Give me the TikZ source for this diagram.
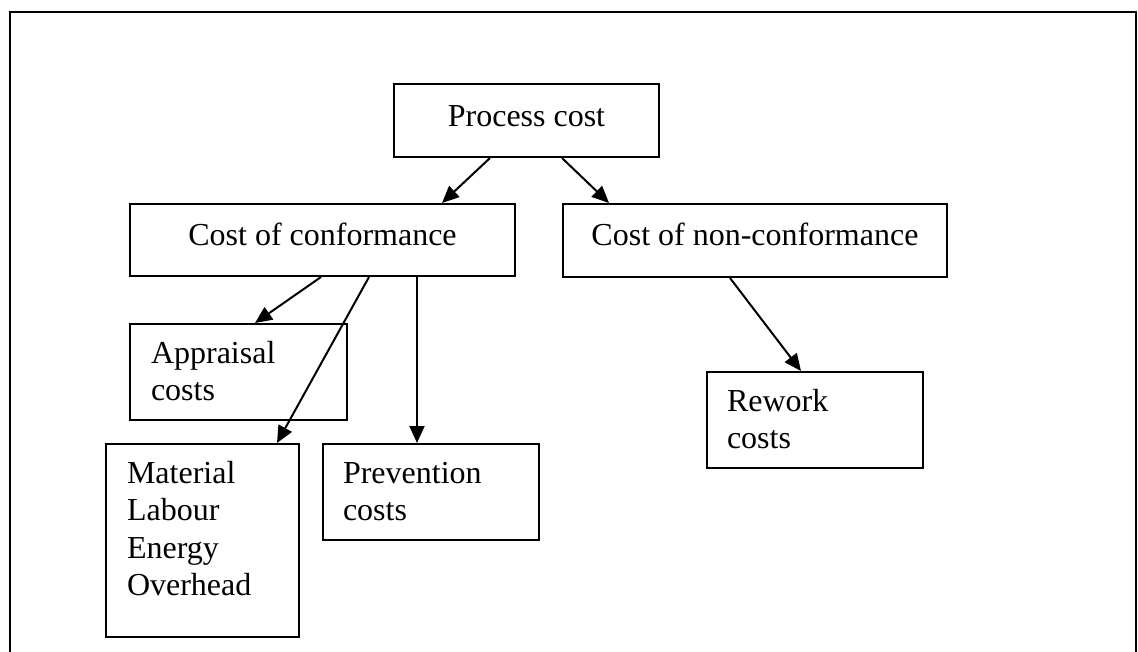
\documentclass[tikz,border=0pt]{standalone}
\usepackage{fontspec}
\setmainfont{Liberation Serif}
\usetikzlibrary{arrows.meta}
% box contents: width, height, left pad, top pad, text
\newcommand{\lcell}[5]{\parbox[t][#2][t]{#1}{\vspace*{#4}\leftskip=#3\relax\strut #5}}
\newcommand{\ccell}[4]{\parbox[t][#2][t]{#1}{\vspace*{#3}\centering\strut #4}}
\tikzset{
  costbox/.style={draw, line width=2pt, inner sep=0pt, anchor=north west,
    font=\fontsize{32}{37.5}\selectfont},
  arr/.style={line width=2pt, -{Triangle[length=17pt,width=15pt]}},
  frame/.style={line width=2pt}
}
\begin{document}
\begin{tikzpicture}[x=1pt,y=-1pt]
\useasboundingbox (0,0) rectangle (1138,651);
% outer frame, open at the bottom
\draw[frame] (10,660) -- (10,12) -- (1136,12) -- (1136,660);

\node[costbox] (proc) at (393,83)  {\ccell{265pt}{73pt}{15.75pt}{Process cost}};
\node[costbox] (coc)  at (129,203) {\ccell{385pt}{72pt}{14.75pt}{Cost of conformance}};
\node[costbox] (cnc)  at (562,203) {\ccell{384pt}{73pt}{14.75pt}{Cost of non-conformance}};
\node[costbox] (app)  at (129,323) {\lcell{217pt}{96pt}{21pt}{12.75pt}{Appraisal\\costs}};
\node[costbox] (mat)  at (105,443) {\lcell{193pt}{193pt}{21pt}{12.75pt}{Material\\Labour\\Energy\\Overhead}};
\node[costbox] (prev) at (322,443) {\lcell{216pt}{96pt}{20pt}{12.75pt}{Prevention\\costs}};
\node[costbox] (rew)  at (706,371) {\lcell{216pt}{96pt}{20pt}{12.75pt}{Rework\\costs}};

\draw[arr] ([xshift=97pt]proc.south west)  -- ([xshift=313pt]coc.north west);
\draw[arr] ([xshift=169pt]proc.south west) -- ([xshift=47pt]cnc.north west);
\draw[arr] ([xshift=192pt]coc.south west)  -- ([xshift=126pt]app.north west);
\draw[arr] ([xshift=240pt]coc.south west)  -- ([xshift=172pt]mat.north west);
\draw[arr] ([xshift=288pt]coc.south west)  -- ([xshift=95pt]prev.north west);
\draw[arr] ([xshift=168pt]cnc.south west)  -- ([xshift=95pt]rew.north west);
\end{tikzpicture}
\end{document}
